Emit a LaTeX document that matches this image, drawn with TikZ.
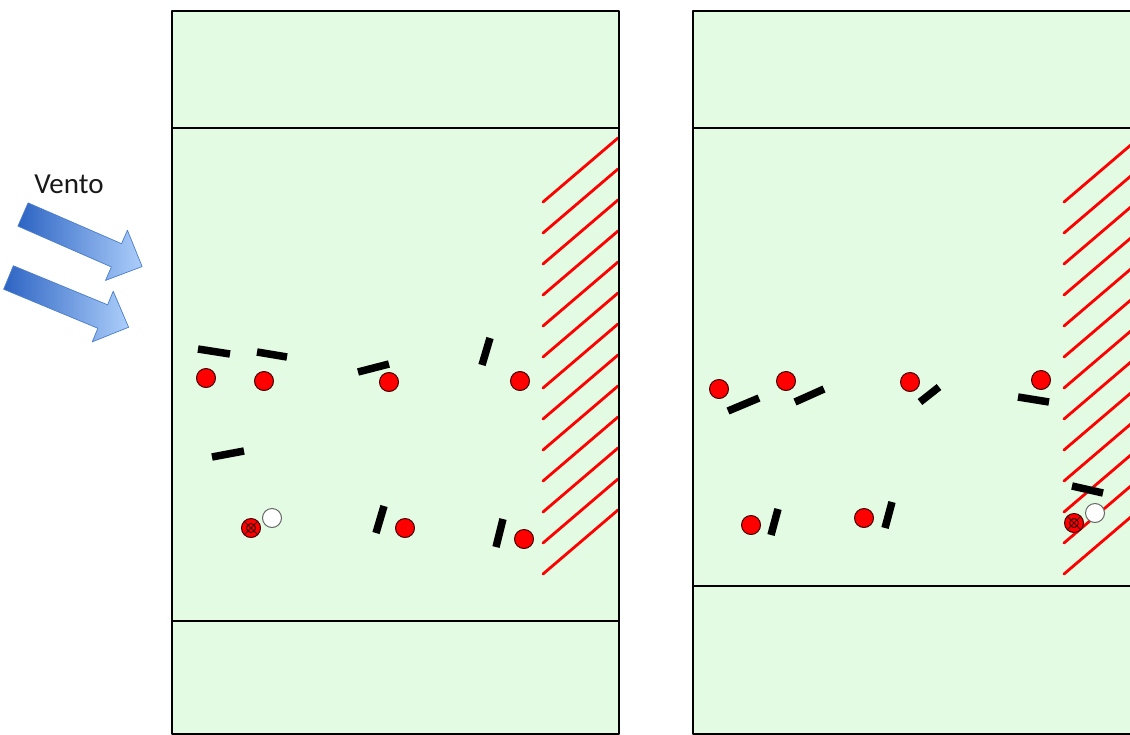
\documentclass[tikz,border=0pt]{standalone}
\usepackage{fontspec}
\newfontfamily\ventofont{Carlito}
\definecolor{campo}{RGB}{227,250,227}
\definecolor{ventoscuro}{RGB}{45,100,195}
\definecolor{ventochiaro}{RGB}{172,206,250}
\definecolor{bordovento}{RGB}{75,125,205}
\tikzset{
  palla/.style={fill=red, draw=red!25!black, line width=1pt},
  pallabianca/.style={fill=white, draw=black!60, line width=1pt},
  sbarra/.style={black, line width=7.5pt},
  ombra/.style={red, line width=2.8pt, line cap=round},
  bordo/.style={black, line width=2.5pt},
  freccia/.style={draw=bordovento, line width=0.7pt, left color=ventoscuro, right color=ventochiaro}
}
\begin{document}
\begin{tikzpicture}[x=1pt,y=-1pt,line join=round]
	\clip (0,0) rectangle (1130,734);
	\path 
	(172,11) coordinate (P1)
	(619,734) coordinate (Q1)
	(693,11) coordinate (P2)
	(1140,734) coordinate (Q2)
	;
	\fill[campo] (P1) rectangle (Q1);
	\fill[campo] (P2) rectangle (Q2);
	
	% zona d'ombra
	\foreach \i in {0,...,12}{
		\draw[ombra] (543,202+31*\i) -- (618,138+31*\i);
		\draw[ombra] (1064,202+31*\i) -- (1139,138+31*\i);
	}
	
	\draw[bordo] (P1) rectangle (Q1);
	\draw[bordo] (P2) rectangle (Q2);
	\draw[bordo] (172,128) -- (619,128);
	\draw[bordo] (172,621) -- (619,621);
	\draw[bordo] (693,128) -- (1140,128);
	\draw[bordo] (693,586) -- (1140,586);
	
	% vento
	\node[font=\ventofont\fontsize{29}{31}\selectfont, text=black!90] (vento) at (69,184) {Vento};
	\foreach \sx/\sy/\ang in {23/214.5/-23.6, 8.5/277.5/-22.5}{
		\begin{scope}[shift={(\sx,\sy)}, rotate=\ang]
			\shade[freccia] (0,-12.7) -- (102,-12.7) -- (102,-27.4) -- (130,0) 
				-- (102,27.4) -- (102,12.7) -- (0,12.7) -- cycle;
		\end{scope}
	}
	
	% primo campo
	\path 
	(206,378) coordinate (A1)
	(264,381) coordinate (A2)
	(389,382) coordinate (A3)
	(520,381) coordinate (A4)
	(405,528) coordinate (A5)
	(524,539) coordinate (A6)
	(251,528) coordinate (X1)
	(272,518) coordinate (B1)
	;
	\draw[sbarra] (198,349)--(230,354);
	\draw[sbarra] (257,352)--(287,357);
	\draw[sbarra] (358,372)--(389,364);
	\draw[sbarra] (212,457)--(244,451);
	\draw[sbarra] (384,506)--(376,533);
	\draw[sbarra] (490,338)--(482,365);
	\draw[sbarra] (503,519)--(496,547);
	\foreach \p in {A1,A2,A3,A4,A5,A6} \filldraw[palla] (\p) circle (9.5);
	\filldraw[palla] (X1) circle (9.5);
	\draw[red!25!black, line width=1pt] (X1) circle (4.5) 
		(X1) +(45:9.5) -- +(225:9.5) (X1) +(135:9.5) -- +(315:9.5);
	\filldraw[pallabianca] (B1) circle (9.5);
	
	% secondo campo
	\path 
	(719,389) coordinate (C1)
	(786,381) coordinate (C2)
	(910,382) coordinate (C3)
	(1041,380) coordinate (C4)
	(751,525) coordinate (C5)
	(864,518) coordinate (C6)
	(1074,523) coordinate (X2)
	(1095,513) coordinate (B2)
	;
	\draw[sbarra] (728,411)--(759,398);
	\draw[sbarra] (795,402)--(824,389);
	\draw[sbarra] (920,402)--(939,387);
	\draw[sbarra] (778,509)--(771,535);
	\draw[sbarra] (892,502)--(885,528);
	\draw[sbarra] (1018,397)--(1049,402);
	\draw[sbarra] (1072,486)--(1103,493);
	\foreach \p in {C1,C2,C3,C4,C5,C6} \filldraw[palla] (\p) circle (9.5);
	\filldraw[palla] (X2) circle (9.5);
	\draw[red!25!black, line width=1pt] (X2) circle (4.5) 
		(X2) +(45:9.5) -- +(225:9.5) (X2) +(135:9.5) -- +(315:9.5);
	\filldraw[pallabianca] (B2) circle (9.5);
\end{tikzpicture}
\end{document}
